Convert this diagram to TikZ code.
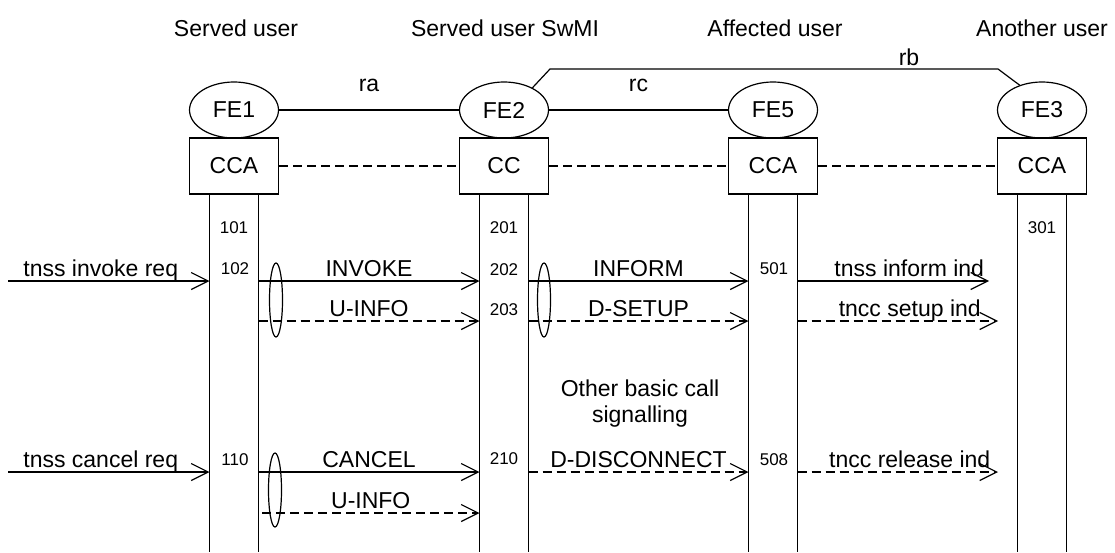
\documentclass[tikz,border=0pt]{standalone}
\usepackage{fontspec}
\setmainfont{Liberation Sans}
\usetikzlibrary{shapes.geometric,arrows.meta}

\tikzset{
	txt/.style={font=\fontsize{23}{26}\selectfont,inner sep=0pt},
	num/.style={font=\fontsize{17}{20}\selectfont,inner sep=0pt},
	entity/.style={draw,ellipse,minimum width=89pt,minimum height=56pt,inner sep=0pt,txt},
	agent/.style={draw,minimum width=89pt,minimum height=56pt,inner sep=0pt,txt},
	group/.style={draw,ellipse,minimum width=13pt,minimum height=74pt,inner sep=0pt},
	msg/.style={-{Straight Barb[length=17pt,width=17pt]}},
	msgd/.style={msg,dash pattern=on 9pt off 5pt},
	lbl/.style={midway,anchor=base,yshift=5pt,txt},
}

\begin{document}
\begin{tikzpicture}[x=1pt,y=-1pt,line width=1.2pt]
	\useasboundingbox (0,0) rectangle (1115,552);

	% users
	\node[txt] (u1) at (236,28) {Served user};
	\node[txt] (u2) at (505,28) {Served user SwMI};
	\node[txt] (u5) at (775,28) {Affected user};
	\node[txt] (u3) at (1042,28) {Another user};

	% functional entities
	\node[entity] (fe1) at (234,110) {FE1};
	\node[entity] (fe2) at (504,110) {FE2};
	\node[entity] (fe5) at (773,110) {FE5};
	\node[entity] (fe3) at (1042,110) {FE3};
	\node[agent] (cca1) at (234,166) {CCA};
	\node[agent] (cc2) at (504,166) {CC};
	\node[agent] (cca5) at (773,166) {CCA};
	\node[agent] (cca3) at (1042,166) {CCA};

	% relationships
	\draw (fe1) -- (fe2) node[midway,anchor=base,yshift=19pt,txt] {ra};
	\draw (fe2) -- (fe5) node[midway,anchor=base,yshift=19pt,txt] {rc};
	\coordinate (rb1) at (550,69);
	\coordinate (rb2) at (998,69);
	\draw (fe2.38) -- (rb1) -- (rb2) -- (fe3.132);
	\node[txt] (rb) at (909,57) {rb};
	\draw[dash pattern=on 9pt off 5pt] (cca1) -- (cc2);
	\draw[dash pattern=on 9pt off 5pt] (cc2) -- (cca5);
	\draw[dash pattern=on 9pt off 5pt] (cca5) -- (cca3);

	% life lines
	\foreach \n/\x in {1/234,2/504,5/773,3/1042}{
		\coordinate (l\n) at (\x-24.5,194);
		\coordinate (r\n) at (\x+24.5,194);
		\draw (l\n) -- ++(0,358);
		\draw (r\n) -- ++(0,358);
	}

	% state numbers
	\node[num] (n101) at (234,228) {101};
	\node[num] (n201) at (504,228) {201};
	\node[num] (n301) at (1042,228) {301};
	\node[num] (n102) at (235,269) {102};
	\node[num] (n202) at (504,270) {202};
	\node[num] (n203) at (504,310) {203};
	\node[num] (n501) at (774,269) {501};
	\node[num] (n110) at (235,460) {110};
	\node[num] (n210) at (504,459) {210};
	\node[num] (n508) at (774,460) {508};

	% invoke
	\coordinate (a1) at (8,281);
	\coordinate (a2) at (8,321);
	\coordinate (e1) at (989,281);
	\coordinate (e2) at (998,321);
	\draw[msg] (a1) -- (l1 |- a1) node[lbl,xshift=-8pt] {tnss invoke req};
	\draw[msg] (r1 |- a1) -- (l2 |- a1) node[lbl] {INVOKE};
	\draw[msgd] (r1 |- a2) -- (l2 |- a2) node[lbl] {U-INFO};
	\draw[msg] (r2 |- a1) -- (l5 |- a1) node[lbl] {INFORM};
	\draw[msgd] (r2 |- a2) -- (l5 |- a2) node[lbl] {D-SETUP};
	\draw[msg] (r5 |- a1) -- (e1) node[lbl,xshift=16pt] {tnss inform ind};
	\draw[msgd] (r5 |- a2) -- (e2) node[lbl,xshift=12pt] {tncc setup ind};
	\node[group] (g1) at (276,300) {};
	\node[group] (g2) at (544,300) {};

	\node[txt,align=center] (other) at (640,404) {Other basic call\\signalling};

	% cancel
	\coordinate (a3) at (8,472);
	\coordinate (a4) at (262,513);
	\coordinate (e3) at (998,472);
	\draw[msg] (a3) -- (l1 |- a3) node[lbl,xshift=-8pt] {tnss cancel req};
	\draw[msg] (r1 |- a3) -- (l2 |- a3) node[lbl] {CANCEL};
	\draw[msgd] (a4) -- (l2 |- a4) node[lbl] {U-INFO};
	\draw[msgd] (r2 |- a3) -- (l5 |- a3) node[lbl] {D-DISCONNECT};
	\draw[msgd] (r5 |- a3) -- (e3) node[lbl,xshift=12pt] {tncc release ind};
	\node[group] (g3) at (275,490) {};
\end{tikzpicture}
\end{document}
